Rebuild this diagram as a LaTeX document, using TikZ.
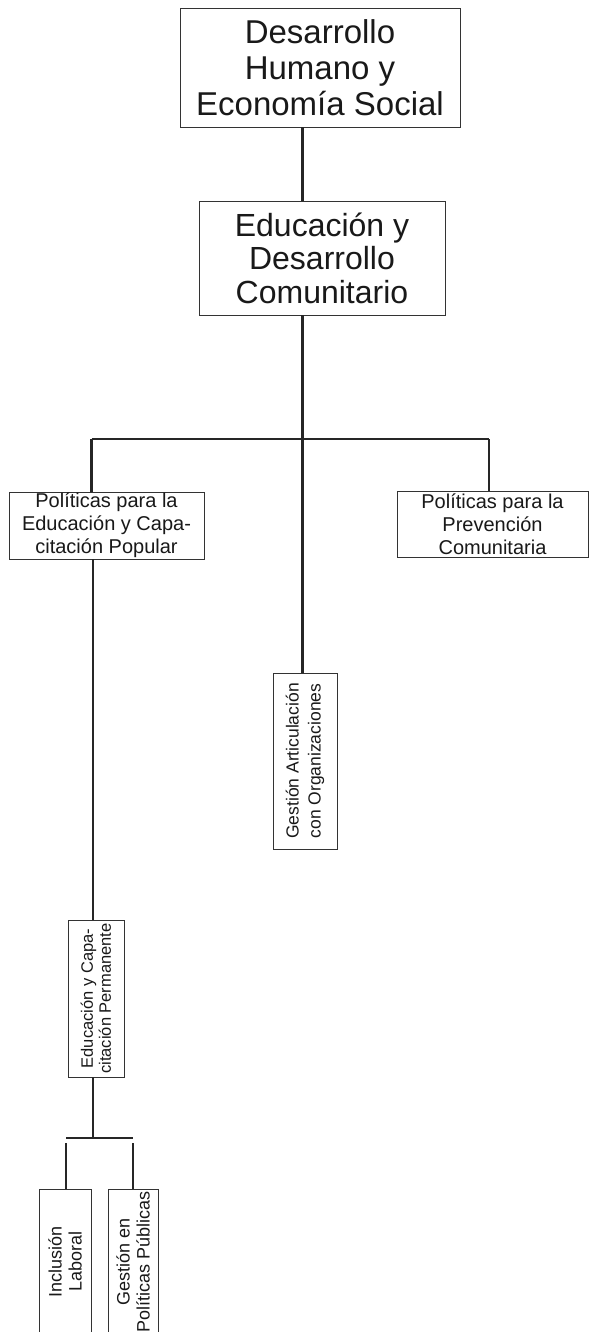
\documentclass[tikz,border=0pt]{standalone}
\usepackage{fontspec}
\setmainfont{Liberation Sans}
\begin{document}
\begin{tikzpicture}[x=1pt,y=-1pt,
  box/.style={draw=black!80,line width=0.8pt,rectangle,inner sep=0pt,align=center,text=black!90},
  conn/.style={draw=black!85,line width=2.2pt}]
\clip (0,0) rectangle (590,1332);
\fill[white] (0,0) rectangle (590,1332);
% main boxes
\node[box,minimum width=280,minimum height=119,font=\fontsize{33}{36}\selectfont] (b1) at (320,67.5) {Desarrollo\\Humano y\\Economía Social};
\node[box,minimum width=246,minimum height=114,font=\fontsize{32}{33.5}\selectfont] (b2) at (322,258) {Educación y\\Desarrollo\\Comunitario};
\node[box,minimum width=195,minimum height=67,font=\fontsize{20}{23}\selectfont] (pe) at (106.5,525.5) {Políticas para la\\Educación y Capa-\\citación Popular};
\node[box,minimum width=191,minimum height=66,font=\fontsize{20}{23}\selectfont] (pp) at (492.5,524) {Políticas para la\\Prevención\\Comunitaria};
\node[box,rotate=90,minimum width=176,minimum height=64,font=\fontsize{17.5}{22}\selectfont] (ga) at (305,761) {Gestión Articulación\\con Organizaciones};
\node[box,rotate=90,minimum width=157,minimum height=56,font=\fontsize{16.5}{18}\selectfont] (ep) at (96,998.5) {Educación y Capa-\\citación Permanente};
\node[box,rotate=90,minimum width=145,minimum height=52,font=\fontsize{18}{20}\selectfont] (il) at (65,1261.5) {Inclusión\\Laboral};
\node[box,rotate=90,minimum width=145,minimum height=50,font=\fontsize{18}{20}\selectfont] (gp) at (133,1261.5) {Gestión en\\Políticas Públicas};
% connector coordinates
\coordinate (cx) at (302.5,0);
\coordinate (jl) at (91.5,439);
\coordinate (jr) at (489,439);
\coordinate (cl) at (93,0);
\coordinate (jb) at (93,1138);
\coordinate (bl) at (66,1138);
\coordinate (br) at (132.5,1138);
\coordinate (vl) at (66,1143);
\coordinate (vr) at (133,1143);
% connectors
\draw[conn] (b1.south -| cx) -- (b2.north -| cx);
\draw[conn] (b2.south -| cx) -- (ga.east -| cx);
\draw[conn] (jl) -- (jr);
\draw[conn] (jl) -- (pe.north -| jl);
\draw[conn] (jr) -- (pp.north -| jr);
\draw[conn] (pe.south -| cl) -- (ep.east -| cl);
\draw[conn] (ep.west -| cl) -- (jb);
\draw[conn] (bl) -- (br);
\draw[conn] (vl) -- (il.east -| vl);
\draw[conn] (vr) -- (gp.east -| vr);
\end{tikzpicture}
\end{document}
